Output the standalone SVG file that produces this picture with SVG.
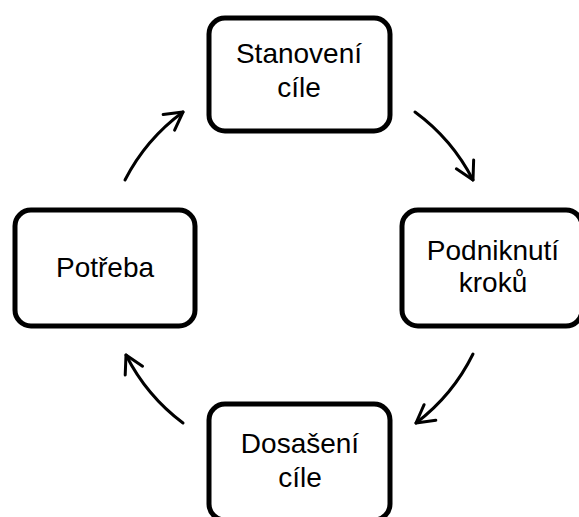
<svg xmlns="http://www.w3.org/2000/svg" width="579" height="517" viewBox="0 0 579 517">
<style>
.box{fill:#fff;stroke:#000;stroke-width:5}
.lbl{font-family:"Liberation Sans",Arial,sans-serif;font-size:28px;fill:#000;text-anchor:middle}
.arc{fill:none;stroke:#000;stroke-width:3;stroke-linecap:round}
</style>
<defs>
<marker id="ah" markerUnits="userSpaceOnUse" markerWidth="40" markerHeight="40" viewBox="-20 -20 40 40" refX="0" refY="0" orient="auto" overflow="visible">
<path d="M-17.5,-9.7 L0,0 L-17.5,9.7" fill="none" stroke="#000" stroke-width="3" stroke-linecap="round" stroke-linejoin="round"/>
</marker>
</defs>
<rect width="579" height="517" fill="#fff"/>
<g id="connectors">
<path class="arc" d="M125,180 A194,194 0 0 1 183,112" marker-end="url(#ah)"/>
<path class="arc" d="M415,112 A194,194 0 0 1 473,180" marker-end="url(#ah)"/>
<path class="arc" d="M473,354 A194,194 0 0 1 416,423" marker-end="url(#ah)"/>
<path class="arc" d="M183,423 A194,194 0 0 1 126,355" marker-end="url(#ah)"/>
</g>
<g id="stanoveni">
<rect class="box" x="209" y="18" width="181" height="113" rx="16"/>
<text class="lbl" x="299" y="63">Stanovení</text>
<text class="lbl" x="299" y="97">cíle</text>
</g>
<g id="podniknuti">
<rect class="box" x="402" y="210" width="180" height="116" rx="16"/>
<text class="lbl" x="493" y="260">Podniknutí</text>
<text class="lbl" x="493" y="292">kroků</text>
</g>
<g id="dosazeni">
<rect class="box" x="209" y="404" width="181" height="116" rx="16"/>
<text class="lbl" x="300" y="453">Dosašení</text>
<text class="lbl" x="300" y="487">cíle</text>
</g>
<g id="potreba">
<rect class="box" x="15" y="210" width="180" height="116" rx="16"/>
<text class="lbl" x="105" y="277">Potřeba</text>
</g>
</svg>
